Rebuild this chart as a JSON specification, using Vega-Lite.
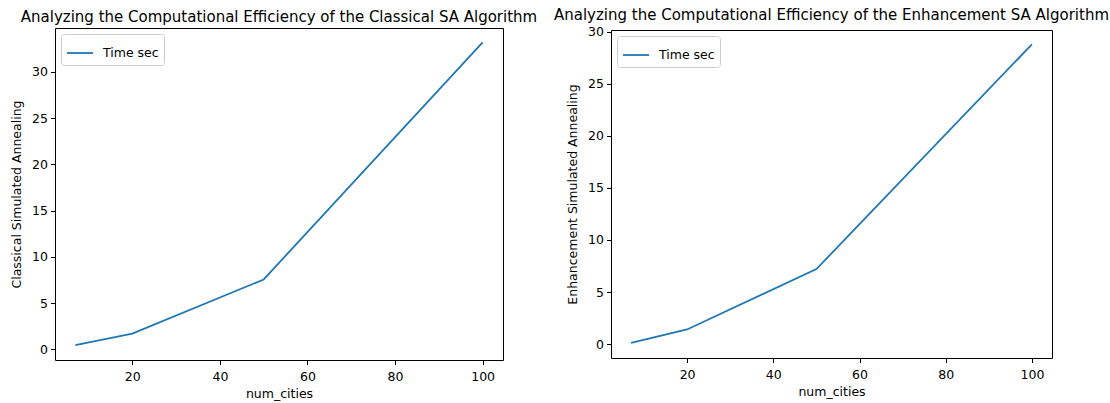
{
  "$schema": "https://vega.github.io/schema/vega-lite/v6.json",
  "padding": {"left": 10, "top": 7, "right": 5, "bottom": 5},
  "bounds": "flush",
  "spacing": 108,
  "center": true,
  "config": {
    "font": "DejaVu Sans",
    "view": {"stroke": "black", "strokeWidth": 1},
    "axis": {
      "domain": false, "grid": false, "ticks": true,
      "tickColor": "black", "tickSize": 4.5, "tickWidth": 1,
      "labelFont": "DejaVu Sans", "labelFontSize": 12.5, "labelColor": "black", "labelPadding": 3,
      "titleFont": "DejaVu Sans", "titleFontSize": 12.5, "titleFontWeight": "normal", "titleColor": "black", "titlePadding": 5
    },
    "axisX": {"labelPadding": 6, "titlePadding": 4},
    "axisY": {"titlePadding": 8},
    "title": {"font": "DejaVu Sans", "fontSize": 15, "fontWeight": "normal", "color": "black", "offset": 3, "anchor": "middle", "frame": "group"},
    "legend": {
      "orient": "top-left", "offset": 6, "padding": 5,
      "fillColor": "white", "strokeColor": "#cccccc", "cornerRadius": 3,
      "symbolType": "stroke", "symbolSize": 676, "symbolStrokeWidth": 1.8,
      "labelFont": "DejaVu Sans", "labelFontSize": 12.5, "labelColor": "black", "labelOffset": 9
    }
  },
  "resolve": {"scale": {"color": "independent"}, "legend": {"color": "independent"}},
  "hconcat": [
    {
      "width": 448,
      "height": 332,
      "title": "Analyzing the Computational Efficiency of the Classical SA Algorithm",
      "data": {"values": [
        {"num_cities": 7, "time_sec": 0.46, "series": "Time sec"},
        {"num_cities": 20, "time_sec": 1.7, "series": "Time sec"},
        {"num_cities": 50, "time_sec": 7.55, "series": "Time sec"},
        {"num_cities": 100, "time_sec": 33.2, "series": "Time sec"}
      ]},
      "mark": {"type": "line", "strokeWidth": 1.8},
      "encoding": {
        "x": {"field": "num_cities", "type": "quantitative",
              "scale": {"domain": [2.35, 104.65], "nice": false, "zero": false},
              "axis": {"values": [20, 40, 60, 80, 100], "title": "num_cities"}},
        "y": {"field": "time_sec", "type": "quantitative",
              "scale": {"domain": [-1.16, 34.75], "nice": false, "zero": false},
              "axis": {"values": [0, 5, 10, 15, 20, 25, 30], "title": "Classical Simulated Annealing"}},
        "color": {"field": "series", "type": "nominal", "scale": {"range": ["#1f77b4"]}, "legend": {"title": null}}
      }
    },
    {
      "width": 441,
      "height": 328,
      "title": "Analyzing the Computational Efficiency of the Enhancement SA Algorithm",
      "data": {"values": [
        {"num_cities": 7, "time_sec": 0.12, "series": "Time sec"},
        {"num_cities": 20, "time_sec": 1.4, "series": "Time sec"},
        {"num_cities": 50, "time_sec": 7.2, "series": "Time sec"},
        {"num_cities": 100, "time_sec": 28.8, "series": "Time sec"}
      ]},
      "mark": {"type": "line", "strokeWidth": 1.8},
      "encoding": {
        "x": {"field": "num_cities", "type": "quantitative",
              "scale": {"domain": [2.35, 104.65], "nice": false, "zero": false},
              "axis": {"values": [20, 40, 60, 80, 100], "title": "num_cities"}},
        "y": {"field": "time_sec", "type": "quantitative",
              "scale": {"domain": [-1.34, 30.17], "nice": false, "zero": false},
              "axis": {"values": [0, 5, 10, 15, 20, 25, 30], "title": "Enhancement Simulated Annealing"}},
        "color": {"field": "series", "type": "nominal", "scale": {"range": ["#1f77b4"]}, "legend": {"title": null}}
      }
    }
  ]
}
